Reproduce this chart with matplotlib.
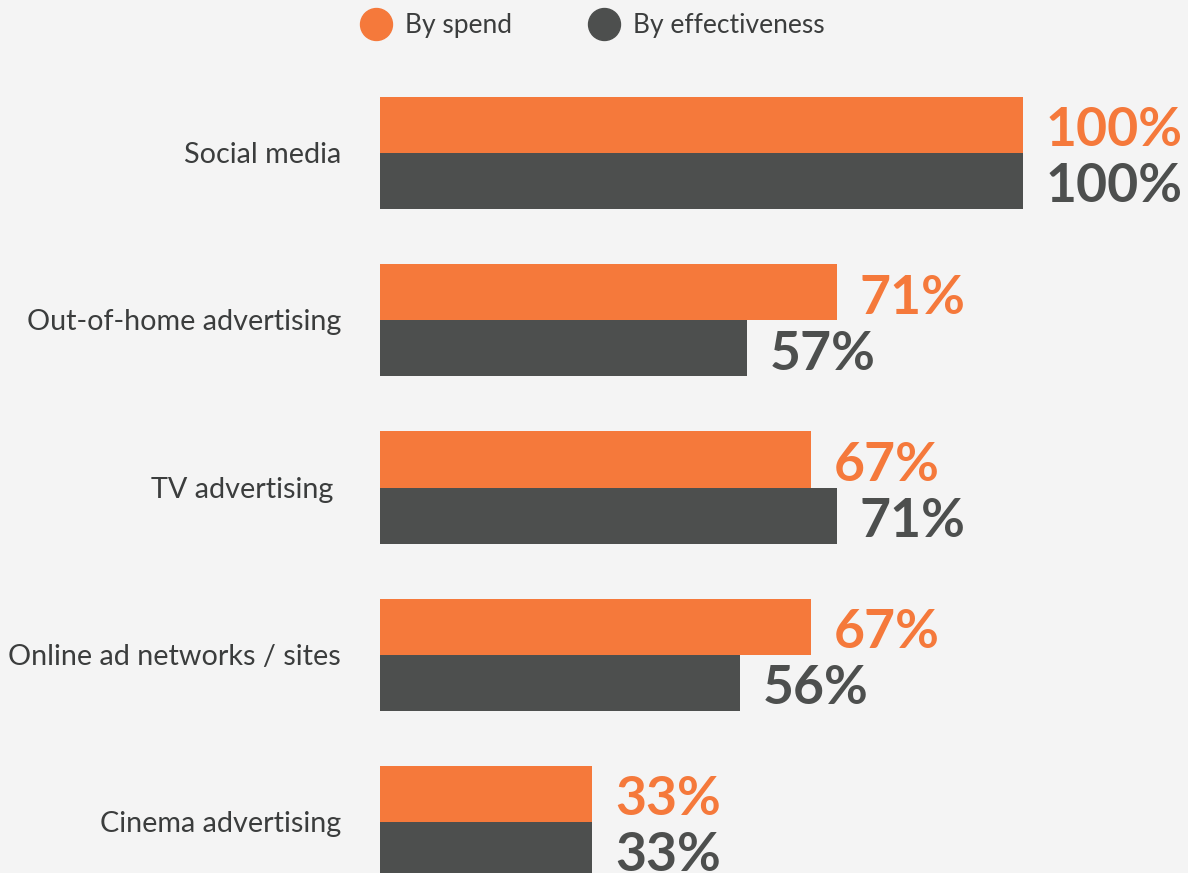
import matplotlib.pyplot as plt
from matplotlib.lines import Line2D

categories = ["Social media", "Out-of-home advertising", "TV advertising ",
              "Online ad networks / sites", "Cinema advertising"]
by_spend = [100, 71, 67, 67, 33]
by_effectiveness = [100, 57, 71, 56, 33]
series_names = ["By spend", "By effectiveness"]

ORANGE = "#f5793b"
DARK = "#4d4f4e"
TEXT = "#3b3d3d"
BG = "#f4f4f4"

plt.rcParams["font.family"] = ["Lato", "DejaVu Sans"]

W, H = 1188, 873
fig = plt.figure(figsize=(W / 100, H / 100), dpi=100, facecolor=BG)
ax = fig.add_axes([380 / W, 0, 643 / W, 1])
ax.set_facecolor(BG)

bar_h = 0.335
ypos = list(range(len(categories)))
ax.barh([y - bar_h / 2 for y in ypos], by_spend, height=bar_h, color=ORANGE)
ax.barh([y + bar_h / 2 for y in ypos], by_effectiveness, height=bar_h, color=DARK)

ax.set_xlim(0, 100)
ax.set_ylim(4.305, -0.915)
ax.axis("off")

# value labels just past the bar ends
off = 23 / 643 * 100
for y, s, e in zip(ypos, by_spend, by_effectiveness):
    ax.text(s + off, y - bar_h / 2 + 0.035, f"{s}%", color=ORANGE, fontsize=38.5,
            fontweight="bold", va="center", ha="left")
    ax.text(e + off, y + bar_h / 2 + 0.035, f"{e}%", color=DARK, fontsize=38.5,
            fontweight="bold", va="center", ha="left")

# category names to the left of the bars
lab_x = -39 / 643 * 100
for y, c in zip(ypos, categories):
    ax.text(lab_x, y + 0.012, c, color=TEXT, fontsize=20.7, va="center", ha="right")

handles = [Line2D([], [], marker="o", ls="none", markersize=23, color=ORANGE),
           Line2D([], [], marker="o", ls="none", markersize=23, color=DARK)]
fig.legend(handles, series_names, loc="center left", bbox_to_anchor=(347 / W, 1 - 26 / H),
           ncol=2, frameon=False, fontsize=19, labelcolor=TEXT,
           handletextpad=0.5, columnspacing=2.9, borderpad=0, handlelength=1.2)

fig.savefig("out.png", dpi=100, facecolor=BG)
